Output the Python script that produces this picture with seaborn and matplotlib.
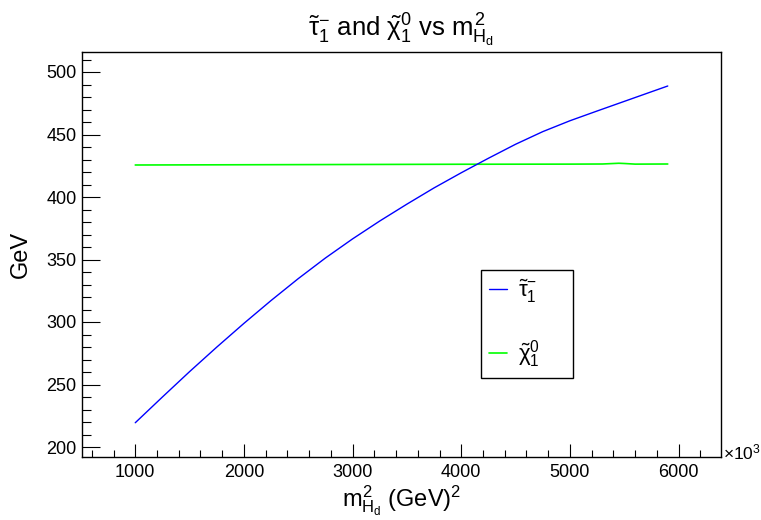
import numpy as np
import pandas as pd
import matplotlib
matplotlib.use("Agg")
import matplotlib.pyplot as plt
from matplotlib.ticker import MultipleLocator
import seaborn as sns

# ---- data ----
mhd2 = [1000, 1250, 1500, 1750, 2000, 2250, 2500, 2750, 3000, 3250, 3500,
        3750, 4000, 4250, 4500, 4750, 5000, 5250, 5500, 5750, 5900]
stau = [219.4, 240.0, 260.3, 279.9, 298.9, 317.2, 334.7, 351.2, 366.5, 380.8, 394.3,
        407.3, 419.4, 431.0, 442.2, 452.3, 461.0, 468.8, 476.5, 484.2, 488.8]

mhd2_chi = [1000, 2000, 3000, 4000, 5000, 5300, 5400, 5450, 5500, 5600, 5900]
chi = [425.6, 425.8, 426.0, 426.2, 426.3, 426.4, 426.8, 427.0, 426.8, 426.3, 426.4]

title = r"$\tilde{\tau}_1^{-}$ and $\tilde{\chi}_1^{0}$ vs $m^2_{H_d}$"
xlabel = r"$m^2_{H_d}$ (GeV)$^2$"
ylabel = "GeV"
lab_stau = r"$\tilde{\tau}_1^{-}$"
lab_chi = r"$\tilde{\chi}_1^{0}$"

sns.set_theme(style="white")
plt.rcParams["font.family"] = ["Liberation Sans", "DejaVu Sans"]
plt.rcParams["mathtext.fontset"] = "custom"
plt.rcParams["mathtext.rm"] = "Liberation Sans"
plt.rcParams["mathtext.it"] = "Liberation Sans"
plt.rcParams["mathtext.bf"] = "Liberation Sans:bold"
for k in ["text.color", "axes.labelcolor", "xtick.color", "ytick.color"]:
    plt.rcParams[k] = "black"

fig = plt.figure(figsize=(7.61, 5.20), dpi=100)
ax = fig.add_axes([82 / 761, 1 - 457 / 520, (721 - 82) / 761, (457 - 52) / 520])

df1 = pd.DataFrame({"x": mhd2, "y": stau})
df2 = pd.DataFrame({"x": mhd2_chi, "y": chi})
sns.lineplot(data=df2, x="x", y="y", ax=ax, color="#00ff00", lw=1.2, label=lab_chi, zorder=2)
sns.lineplot(data=df1, x="x", y="y", ax=ax, color="#0000ff", lw=1.0, label=lab_stau, zorder=3)

ax.set_xlim(510, 6390)
ax.set_ylim(192, 516)

ax.xaxis.set_major_locator(MultipleLocator(1000))
ax.xaxis.set_minor_locator(MultipleLocator(200))
ax.yaxis.set_major_locator(MultipleLocator(50))
ax.yaxis.set_minor_locator(MultipleLocator(10))
ax.tick_params(axis="both", which="both", direction="in", color="black",
               bottom=True, left=True, top=False, right=False,
               labelsize=13, width=0.8)
ax.tick_params(axis="y", which="major", length=13)
ax.tick_params(axis="y", which="minor", length=6.5)
ax.tick_params(axis="x", which="major", length=9.5)
ax.tick_params(axis="x", which="minor", length=5)
ax.tick_params(axis="x", pad=5)
ax.tick_params(axis="y", pad=4)
for s in ax.spines.values():
    s.set_visible(True)
    s.set_color("black")
    s.set_linewidth(1.0)

ax.set_xlabel(xlabel, fontsize=17, labelpad=2)
ax.set_ylabel(ylabel, fontsize=17, labelpad=10)
fig.text(401 / 761, 1 - 30 / 520, title, fontsize=18.5, ha="center", va="center")
fig.text(723 / 761, 1 - 452 / 520, r"$\times$10$^3$", fontsize=12.5, ha="left", va="center")

# legend order: stau first
h, l = ax.get_legend_handles_labels()
order = [l.index(lab_stau), l.index(lab_chi)]
leg = ax.legend([h[i] for i in order], [l[i] for i in order],
                loc="upper left",
                bbox_to_anchor=(481 / 761, 1 - 375 / 520, 92 / 761, 105 / 520),
                bbox_transform=fig.transFigure, mode="expand",
                fontsize=16, frameon=True,
                fancybox=False, edgecolor="black", framealpha=1,
                handlelength=0.8, handletextpad=0.5, labelspacing=1.5,
                borderpad=0.35, borderaxespad=0)
leg.get_frame().set_linewidth(1.0)

fig.savefig("out.png", dpi=100, facecolor="white")
